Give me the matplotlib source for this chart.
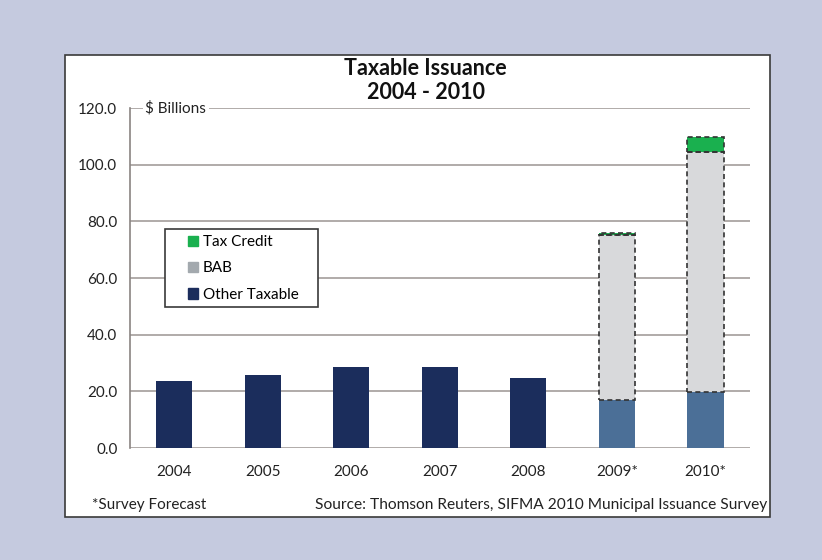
import matplotlib.pyplot as plt
from matplotlib.patches import Rectangle, Patch
import numpy as np

plt.rcParams['font.family'] = ['Lato', 'DejaVu Sans']

# data ($ billions)
years = ['2004', '2005', '2006', '2007', '2008', '2009*', '2010*']
other_taxable = [23.6, 25.8, 28.6, 28.6, 24.7, 16.9, 19.9]
bab = [0, 0, 0, 0, 0, 58.3, 84.7]
tax_credit = [0, 0, 0, 0, 0, 0.8, 5.1]
forecast = [False, False, False, False, False, True, True]

navy = '#1b2d5c'
steel = '#4b6f97'
gray = '#d8d9db'
green = '#1ab04f'
txt = '#222222'

fig = plt.figure(figsize=(8.22, 5.60), dpi=100)
fig.patch.set_facecolor('#c5cadf')
fig.patches.append(Rectangle((0.079, 0.077), 0.858, 0.825, transform=fig.transFigure,
                             facecolor='white', edgecolor='#3a3a3a', lw=1.2, zorder=-5))

ax = fig.add_axes([0.158, 0.2, 0.754, 0.607])
ax.set_facecolor('none')
x = np.arange(len(years))
w = 0.41
other_colors = [steel if f else navy for f in forecast]
ax.bar(x, other_taxable, w, color=other_colors, zorder=3)
bottoms2 = np.array(other_taxable)
ax.bar(x, bab, w, bottom=bottoms2, color=gray, zorder=3)
bottoms3 = bottoms2 + np.array(bab)
ax.bar(x, tax_credit, w, bottom=bottoms3, color=green, zorder=3)
# dashed outlines for forecast segments
for i in range(len(years)):
    if forecast[i]:
        ax.bar(x[i], bab[i], w, bottom=bottoms2[i], facecolor='none', edgecolor='#333333',
               ls=(0, (3, 2)), lw=1.2, zorder=4)
        ax.bar(x[i], tax_credit[i], w, bottom=bottoms3[i], facecolor='none', edgecolor='#333333',
               ls=(0, (3, 2)), lw=1.2, zorder=4)

ax.set_xlim(-0.5, 6.5)
ax.set_ylim(0, 120)
ax.set_yticks(np.arange(0, 121, 20))
ax.set_yticklabels(['%.1f' % v for v in np.arange(0, 121, 20)], fontsize=11, color=txt)
ax.set_xticks(x)
ax.set_xticklabels(years, fontsize=11, color=txt)
ax.tick_params(axis='x', length=0, pad=12)
ax.tick_params(axis='y', length=0, pad=9)
ax.grid(axis='y', color='#a39d9b', lw=1.2, zorder=1)
for s in ['top', 'right', 'bottom']:
    ax.spines[s].set_visible(False)
ax.spines['left'].set_color('#8a8482')
ax.spines['left'].set_linewidth(1.2)

ax.text(0.025, 120, '$ Billions', fontsize=11, color=txt, va='center', ha='left',
        transform=ax.get_yaxis_transform(),
        bbox=dict(facecolor='white', edgecolor='none', pad=2), zorder=5)

# legend box drawn by hand so it can be wider than its text
ax.add_patch(Rectangle((0.056, 0.415), 0.247, 0.229, transform=ax.transAxes,
                       facecolor='white', edgecolor='#3a3a3a', lw=1.2, zorder=6))
handles = [Patch(color=green, label='Tax Credit'),
           Patch(color='#a3a9ae', label='BAB'),
           Patch(color=navy, label='Other Taxable')]
leg = ax.legend(handles=handles, loc='upper left', bbox_to_anchor=(0.093, 0.626),
                fontsize=11, frameon=False, handlelength=0.7, borderaxespad=0,
                handleheight=0.7, handletextpad=0.3, borderpad=0, labelspacing=0.8)
leg.set_zorder(7)

fig.text(0.518, 0.856, 'Taxable Issuance\n2004 - 2010', ha='center', va='center',
         fontsize=15.5, fontweight='bold', color='#111111', linespacing=1.15)
fig.text(0.112, 0.099, '*Survey Forecast', fontsize=11, color=txt, va='center')
fig.text(0.934, 0.099, 'Source: Thomson Reuters, SIFMA 2010 Municipal Issuance Survey',
         fontsize=11.2, color=txt, va='center', ha='right')

fig.savefig('out.png', dpi=100, facecolor=fig.get_facecolor())
